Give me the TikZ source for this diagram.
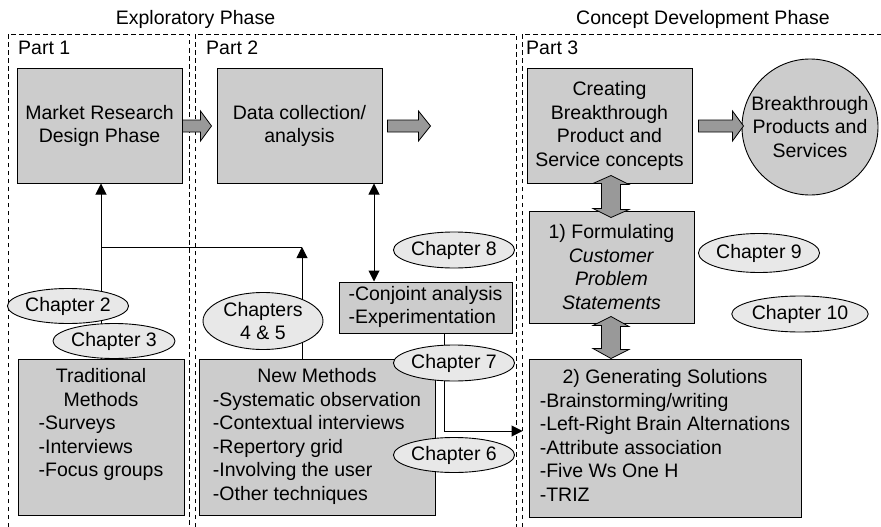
\documentclass[tikz,border=0pt]{standalone}
\usepackage{fontspec}
\setmainfont{Liberation Sans}
\usetikzlibrary{shapes.geometric,arrows.meta,calc}

\definecolor{boxfill}{gray}{0.8}
\definecolor{tagfill}{gray}{0.91}
\definecolor{arrowfill}{gray}{0.6}

\newcommand{\hd}[1]{\multicolumn{1}{@{}c@{}}{#1}}

\begin{document}
\begin{tikzpicture}[x=1pt,y=-1pt,
  every node/.style={font=\fontsize{19.5}{23.5}\selectfont, inner sep=0pt},
  box/.style={draw, line width=1pt, fill=boxfill, rectangle, align=center},
  tag/.style={draw, line width=0.9pt, fill=tagfill, ellipse, align=center},
  frame/.style={dash pattern=on 4.5pt off 3.5pt, line width=0.8pt},
  conn/.style={line width=1pt},
  tip/.style={-{Triangle[width=11pt,length=11pt]}},
  bothtips/.style={{Triangle[width=11pt,length=11pt]}-{Triangle[width=11pt,length=11pt]}},
  blockarrow/.style={draw, line width=0.8pt, fill=arrowfill, line join=miter},
]
\useasboundingbox (0,0) rectangle (881,527);

% phase titles
\node[anchor=base] (explore) at (195.5,25) {Exploratory Phase};
\node[anchor=base] (concept) at (703,25) {Concept Development Phase};

% dashed part frames
\draw[frame] (8,527) -- (8,34) -- (189,34) -- (189,527);
\draw[frame] (195,527) -- (195,34) -- (516,34) -- (516,527);
\draw[frame] (522,527) -- (522,34) -- (881,34);

\node[anchor=base west] (part1) at (18,55) {Part 1};
\node[anchor=base west] (part2) at (206,55) {Part 2};
\node[anchor=base west] (part3) at (526,55) {Part 3};

% main boxes
\node[box, minimum width=165pt, minimum height=114pt] (mr) at (99.5,126)
  {Market Research\\Design Phase};
\node[box, minimum width=165pt, minimum height=114pt] (dc) at (299.5,126)
  {Data collection/\\analysis};
\node[box, minimum width=165pt, minimum height=114pt] (cre) at (609.5,126)
  {Creating\\Breakthrough\\Product and\\Service concepts};
\node[draw, line width=0.9pt, fill=boxfill, circle, minimum size=136pt, align=center]
  (prod) at (810,127) {Breakthrough\\Products and\\Services};
\node[box, minimum width=165pt, minimum height=112pt] (form) at (611.5,267)
  {1) Formulating\\\textit{Customer}\\\textit{Problem}\\\textit{Statements}};
\node[box, minimum width=272pt, minimum height=158pt] (gen) at (665,438)
  {\begin{tabular}{@{}l@{}}\hd{2) Generating Solutions}\\-Brainstorming/writing\\
   -Left-Right Brain Alternations\\-Attribute association\\-Five Ws One H\\-TRIZ\end{tabular}};
\node[box, minimum width=173pt, minimum height=51pt] (conj) at (425.5,307.5)
  {\begin{tabular}{@{}l@{}}-Conjoint analysis\\-Experimentation\end{tabular}};
\node[box, minimum width=166pt, minimum height=156pt] (trad) at (101,437)
  {\begin{tabular}{@{}l@{}}\hd{Traditional}\\\hd{Methods}\\-Surveys\\-Interviews\\
   -Focus groups\\\mbox{}\end{tabular}};
\node[box, minimum width=236pt, minimum height=156pt] (newm) at (317,437)
  {\begin{tabular}{@{}l@{}}\hd{New Methods}\\-Systematic observation\\-Contextual interviews\\
   -Repertory grid\\-Involving the user\\-Other techniques\end{tabular}};

% block arrows along the top row
\draw[blockarrow] ($(mr.east)+(0,-6)$) -- ++(18,0) -- ++(0,-9) -- ++(11,15)
  -- ++(-11,15) -- ++(0,-9) -- ++(-18,0) -- cycle;
\draw[blockarrow] ($(dc.east)+(5,-6)$) -- ++(31,0) -- ++(0,-9) -- ++(12,15)
  -- ++(-12,15) -- ++(0,-9) -- ++(-31,0) -- cycle;
\draw[blockarrow] ($(cre.east)+(6,-6)$) -- ++(34,0) -- ++(0,-9) -- ++(11,15)
  -- ++(-11,15) -- ++(0,-9) -- ++(-34,0) -- cycle;

% double block arrows in part 3
\coordinate (da1) at ($(cre.south)+(1.5,-8)$);
\coordinate (da2) at ($(form.north)+(-0.5,7)$);
\draw[blockarrow] (da1) -- ++(18,9) -- ++(-8.5,0) -- ++(0,25) -- ++(8.5,0) -- (da2)
  -- ++(-18,-9) -- ++(8.5,0) -- ++(0,-25) -- ++(-8.5,0) -- cycle;
\coordinate (db1) at ($(form.south)+(-0.5,-7)$);
\coordinate (db2) at (db1 |- gen.north);
\draw[blockarrow] (db1) -- ++(18,10) -- ++(-8.5,0) -- ++(0,23) -- ++(8.5,0) -- (db2)
  -- ++(-18,-10) -- ++(8.5,0) -- ++(0,-23) -- ++(-8.5,0) -- cycle;

% connectors
\coordinate (join) at (trad.north |- 0,247);
\coordinate (nmup) at ([xshift=-15pt]newm.north);
\draw[conn,tip] (trad.north) -- (trad.north |- mr.south);
\draw[conn] (join) -- (nmup |- join);
\draw[conn,tip] (nmup) -- (nmup |- join);
\draw[conn,bothtips] ([xshift=74.5pt]dc.south) -- ([xshift=74.5pt]dc.south |- conj.north);
\draw[conn,tip,shorten >=6pt] ([xshift=18.5pt]conj.south) |- ([yshift=7pt]gen.west);

% chapter tags
\node[tag, minimum width=120pt, minimum height=35pt] (ch2) at (68,306) {Chapter 2};
\node[tag, minimum width=122pt, minimum height=35pt] (ch3) at (114,341) {Chapter 3};
\node[tag, minimum width=120pt, minimum height=57pt] (ch45) at (263,321) {Chapters\\4 \& 5};
\node[tag, minimum width=120pt, minimum height=36pt] (ch8) at (454,250) {Chapter 8};
\node[tag, minimum width=120pt, minimum height=36pt] (ch7) at (454,363) {Chapter 7};
\node[tag, minimum width=120pt, minimum height=35pt] (ch6) at (454,455) {Chapter 6};
\node[tag, minimum width=118pt, minimum height=39pt] (ch9) at (759,253) {Chapter 9};
\node[tag, minimum width=134pt, minimum height=36pt] (ch10) at (800,314) {Chapter 10};
\end{tikzpicture}
\end{document}
